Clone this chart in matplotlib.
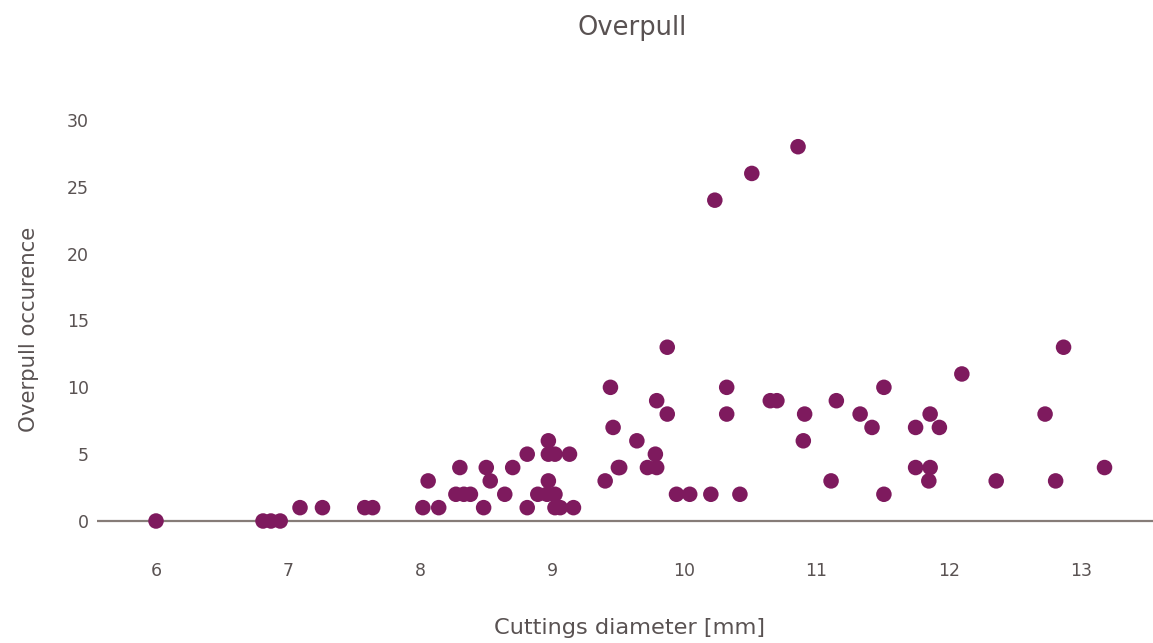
import matplotlib.pyplot as plt

# cuttings diameter [mm] and overpull occurrence
diameter = [6.00, 6.81, 6.87, 6.94,
            7.09, 7.26, 7.58, 7.64, 8.02, 8.14, 8.06,
            8.30, 8.27, 8.33, 8.38, 8.50, 8.53, 8.48, 8.64, 8.70, 8.81, 8.81,
            8.97, 8.97, 9.02, 9.13, 8.97, 8.89, 8.96, 9.02, 9.02, 9.06, 9.16,
            9.40, 9.46, 9.50, 9.64, 9.72, 9.87, 9.44, 9.79, 9.87, 9.78, 9.79,
            9.51, 9.94, 10.04, 10.20, 10.42, 10.32, 10.32, 10.65, 10.70,
            10.91, 10.90, 11.11, 11.15, 11.33, 11.42, 11.51, 11.51, 11.75,
            11.86, 11.93, 11.75, 11.86, 11.85, 12.10, 12.36, 12.73, 12.81,
            12.87, 13.18, 10.23, 10.51, 10.86]
occurrence = [0, 0, 0, 0,
              1, 1, 1, 1, 1, 1, 3,
              4, 2, 2, 2, 4, 3, 1, 2, 4, 5, 1,
              6, 5, 5, 5, 3, 2, 2, 2, 1, 1, 1,
              3, 7, 4, 6, 4, 13, 10, 9, 8, 5, 4,
              4, 2, 2, 2, 2, 10, 8, 9, 9,
              8, 6, 3, 9, 8, 7, 10, 2, 7,
              8, 7, 4, 4, 3, 11, 3, 8, 3,
              13, 4, 24, 26, 28]

x_ticks = [6, 7, 8, 9, 10, 11, 12, 13]
y_ticks = [0, 5, 10, 15, 20, 25, 30]

plt.rcParams['font.family'] = ['DejaVu Sans']
text_col = '#595252'

fig = plt.figure(figsize=(11.53, 6.43), dpi=100)
ax = fig.add_axes([0.0841, 0.1524, 0.9159, 0.692])

ax.axhline(0, color='#867c78', lw=1.6, zorder=1)
ax.scatter(diameter, occurrence, s=125, color='#7e1a5e', edgecolors='none', zorder=3)

ax.set_xlim(5.553, 13.547)
ax.set_ylim(-1.795, 31.49)
ax.set_xticks(x_ticks)
ax.set_yticks(y_ticks)
ax.tick_params(length=0, labelsize=12.5, colors=text_col)
ax.tick_params(axis='x', pad=12)
ax.tick_params(axis='y', pad=6)
for s in ax.spines.values():
    s.set_visible(False)

fig.text(632 / 1153, 1 - 28 / 643, 'Overpull', ha='center', va='center',
         fontsize=18.5, color=text_col)
fig.text(629 / 1153, 1 - 628 / 643, 'Cuttings diameter [mm]', ha='center', va='center',
         fontsize=16.2, color=text_col)
fig.text(29 / 1153, 1 - 329 / 643, 'Overpull occurence', ha='center', va='center',
         rotation=90, fontsize=15.3, color=text_col)

fig.savefig('out.png', dpi=100)
